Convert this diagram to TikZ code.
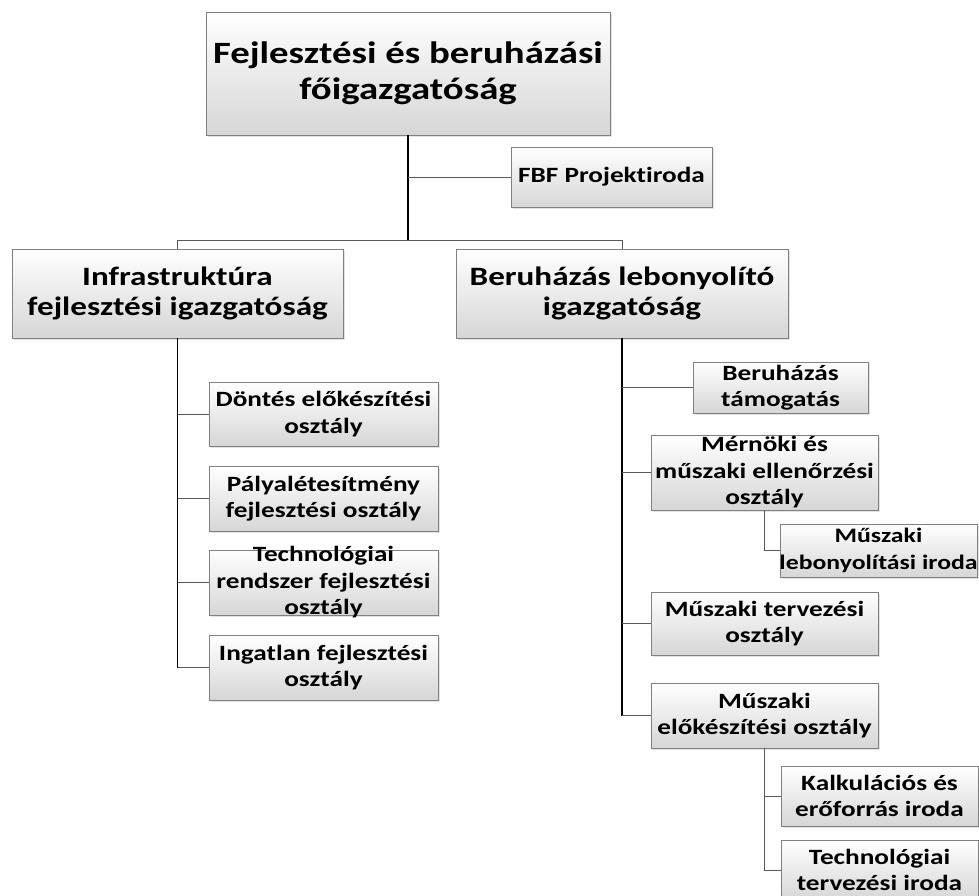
\documentclass[tikz,border=0pt]{standalone}
\usepackage{fontspec}
\setmainfont{Carlito}[FakeStretch=1.25, Ligatures=NoCommon]
\usetikzlibrary{shadows}

\tikzset{
  unitbox/.style={draw=black!50, line width=0.9pt, top color=white, bottom color=black!16,
    drop shadow={opacity=0.22, shadow xshift=1.5pt, shadow yshift=-1.5pt},
    inner sep=0pt, rectangle},
  lbl/.style={align=center, inner sep=0pt, text=black},
  bigtxt/.style={lbl, font=\bfseries\fontsize{31}{36}\selectfont},
  midtxt/.style={lbl, font=\bfseries\fontsize{26.5}{30.5}\selectfont},
  smalltxt/.style={lbl, font=\bfseries\fontsize{21.8}{26.5}\selectfont},
  narrowtxt/.style={lbl, font=\bfseries\fontsize{20.6}{26.5}\selectfont},
  trunk/.style={draw=black, line width=1.7pt},
  branch/.style={draw=black!65, line width=1pt},
}

\begin{document}
\begin{tikzpicture}[x=1pt, y=-1pt]
\useasboundingbox (0,0) rectangle (979,895);
\fill[white] (0,0) rectangle (979,895);
\clip (0,0) rectangle (979,895);

% ---- boxes (centre, size) ----
\node[unitbox, minimum width=404pt, minimum height=123pt] (top)   at (408,73.5)  {};
\node[unitbox, minimum width=201pt, minimum height=60pt]  (fbf)   at (611.5,177) {};
\node[unitbox, minimum width=331pt, minimum height=89pt]  (infra) at (177.5,293.5) {};
\node[unitbox, minimum width=332pt, minimum height=89pt]  (beru)  at (622,293.5) {};

\node[unitbox, minimum width=229pt, minimum height=64pt] (d1) at (323.5,414)   {};
\node[unitbox, minimum width=229pt, minimum height=65pt] (d2) at (323.5,498.5) {};
\node[unitbox, minimum width=229pt, minimum height=65pt] (d3) at (323.5,582.5) {};
\node[unitbox, minimum width=229pt, minimum height=65pt] (d4) at (323.5,667.5) {};

\node[unitbox, minimum width=175pt, minimum height=51pt] (bt)    at (780.5,387.5) {};
\node[unitbox, minimum width=227pt, minimum height=75pt] (mern)  at (764.5,472.5) {};
\node[unitbox, minimum width=197pt, minimum height=53pt] (mlb)   at (878.5,550.5) {};
\node[unitbox, minimum width=227pt, minimum height=63pt] (mterv) at (764.5,623.5) {};
\node[unitbox, minimum width=227pt, minimum height=65pt] (melo)  at (764.5,715.5) {};
\node[unitbox, minimum width=197pt, minimum height=60pt] (kalk)  at (879.5,796)   {};
\node[unitbox, minimum width=197pt, minimum height=60pt] (tech)  at (879.5,870)   {};

% ---- labels ----
\node[bigtxt]   (ttop)   at (top)   {Fejlesztési és beruházási\\főigazgatóság};
\node[smalltxt] (tfbf)   at (fbf)   {FBF Projektiroda};
\node[midtxt]   (tinfra) at (infra) {Infrastruktúra\\fejlesztési igazgatóság};
\node[midtxt]   (tberu)  at (beru)  {Beruházás lebonyolító\\igazgatóság};
\node[smalltxt] (td1) at (d1) {Döntés előkészítési\\osztály};
\node[smalltxt] (td2) at (d2) {Pályalétesítmény\\fejlesztési osztály};
\node[smalltxt] (td3) at (d3) {Technológiai\\rendszer fejlesztési\\osztály};
\node[smalltxt] (td4) at (d4) {Ingatlan fejlesztési\\osztály};
\node[smalltxt] (tbt)    at (bt)    {Beruházás\\támogatás};
\node[smalltxt] (tmern)  at (mern)  {Mérnöki és\\műszaki ellenőrzési\\osztály};
\node[narrowtxt] (tmlb)  at (mlb)   {Műszaki\\lebonyolítási iroda};
\node[smalltxt] (tmterv) at (mterv) {Műszaki tervezési\\osztály};
\node[smalltxt] (tmelo)  at (melo)  {Műszaki\\előkészítési osztály};
\node[smalltxt] (tkalk)  at (kalk)  {Kalkulációs és\\erőforrás iroda};
\node[smalltxt] (ttech)  at (tech)  {Technológiai\\tervezési iroda};

% ---- connectors ----
\coordinate (barL) at (177.5,240);
\coordinate (barR) at (622,240);

\draw[trunk] (top.south) -- (top.south |- barL);
\draw[branch] (top.south |- fbf.west) -- (fbf.west);
\draw[branch] (barL) -- (barR);
\draw[branch] (barL) -- (infra.north);
\draw[branch] (barR) -- (beru.north);

\draw[trunk] (infra.south) -- (infra.south |- d4.west);
\foreach \c in {d1,d2,d3,d4}
  \draw[branch] (infra.south |- \c.west) -- (\c.west);

\draw[trunk] (beru.south) -- (beru.south |- melo.west);
\foreach \c in {bt,mern,mterv,melo}
  \draw[branch] (beru.south |- \c.west) -- (\c.west);

\draw[branch] (mern.south) -- (mern.south |- mlb.west) -- (mlb.west);
\draw[branch] (melo.south) -- (melo.south |- tech.west) -- (tech.west);
\draw[branch] (melo.south |- kalk.west) -- (kalk.west);
\end{tikzpicture}
\end{document}
